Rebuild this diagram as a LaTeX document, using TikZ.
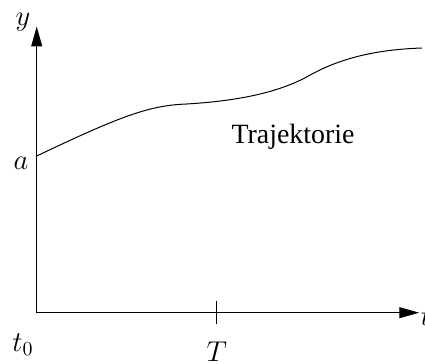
\documentclass[tikz,border=0pt]{standalone}
\usepackage{fontspec}
\newfontfamily\rmtimes{Liberation Serif}
\usetikzlibrary{arrows.meta}

\begin{document}
\begin{tikzpicture}[
    axis/.style={line width=0.5pt, -{Triangle[length=10pt, width=5.5pt]}},
    lbl/.style={font=\fontsize{14}{17}\selectfont, inner sep=0pt}
  ]
        \useasboundingbox (-0.648,-0.888) rectangle (6.852,5.518);

        % Draw axes
        \coordinate (O) at (0,0);
        \coordinate (ytop) at (0,5.05);
        \coordinate (xend) at (6.75,0);
        \draw[axis] (O) -- (ytop);
        \draw[axis] (O) -- (xend);

        % Tick at T
        \coordinate (tickhi) at (3.176,0.206);
        \coordinate (ticklo) at (3.176,-0.2);
        \draw[line width=0.5pt] (tickhi) -- (ticklo);

        % Draw trajectory
        \coordinate (start) at (0,2.765);
        \coordinate (flat) at (2.65,3.683);
        \coordinate (turn) at (4.8,4.18);
        \coordinate (stop) at (6.8,4.671);
        \draw[line width=0.5pt] (start) .. controls (1.5,3.48) and (2.0,3.66) .. (flat)
            .. controls (3.6,3.74) and (4.3,3.9) .. (turn)
            .. controls (5.3,4.46) and (5.9,4.64) .. (stop);

        % Labels
        \node[lbl] (ylab) at (-0.242,5.13) {$y$};
        \node[lbl] (alab) at (-0.277,2.642) {$a$};
        \node[lbl] (t0lab) at (-0.242,-0.57) {$t_0$};
        \node[lbl, anchor=base] (Tlab) at (3.176,-0.86) {$T$};
        \node[lbl, anchor=base west] (tlab) at (6.77,-0.22) {$t$};
        \node[lbl, font=\rmtimes\fontsize{14}{17}\selectfont] (traj) at (4.523,3.1) {Trajektorie};
    \end{tikzpicture}
\end{document}
